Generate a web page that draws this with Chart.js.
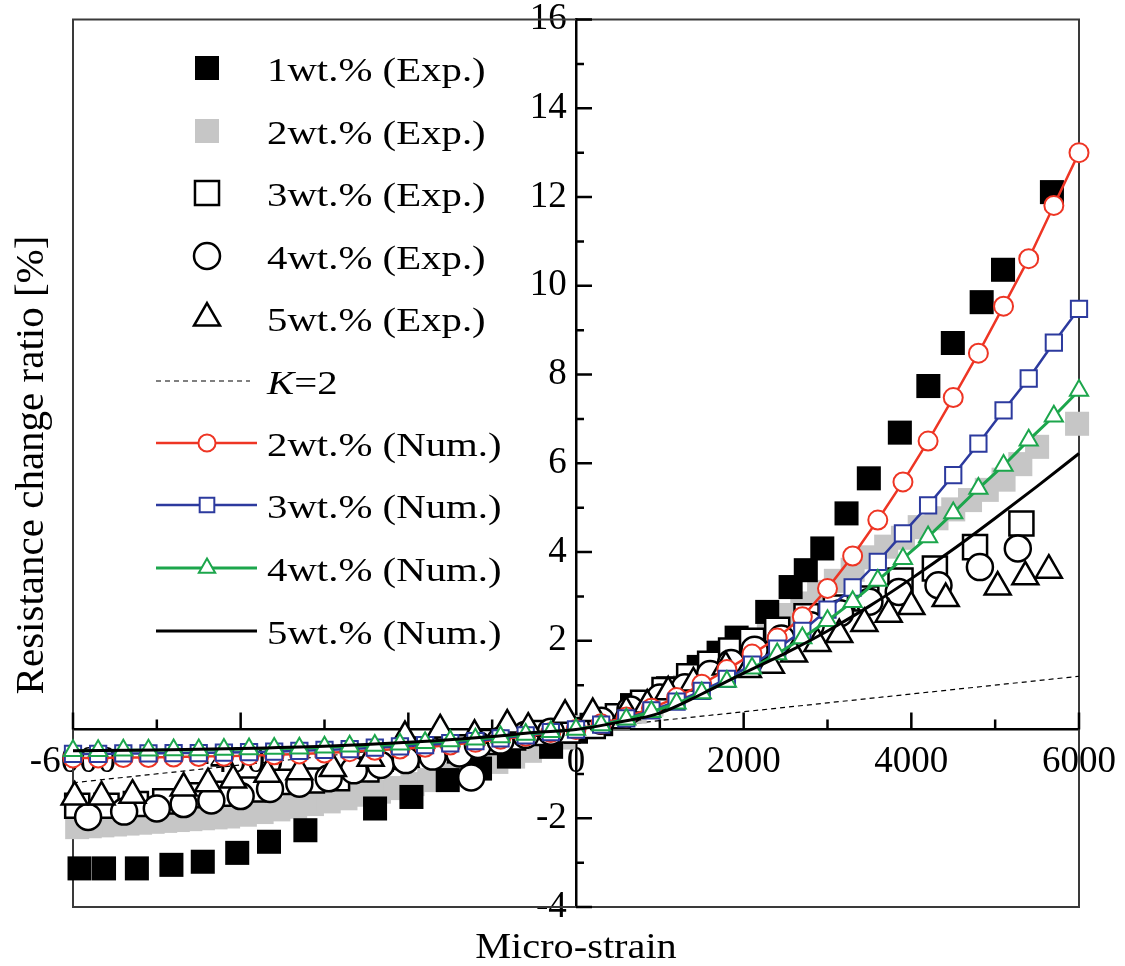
<!DOCTYPE html>
<html>
<head>
<meta charset="utf-8">
<script src="https://cdn.jsdelivr.net/npm/chart.js@4.4.1/dist/chart.umd.min.js"></script>
<style>
  html, body { margin: 0; padding: 0; background: #fff; }
  canvas { display: block; }
</style>
</head>
<body>
<canvas id="c" width="1125" height="966"></canvas>
<script>
// Resistance change ratio vs micro-strain, exp. points + numerical curves
const SERIF = "'Liberation Serif', 'Times New Roman', serif";
const RED = '#ee3524', BLUE = '#2c3a9e', GREEN = '#1ca64c', GRAY = '#c6c6c6';

const xMin = -6000, xMax = 6000, yMin = -4, yMax = 16;

// numerical curves (markers every 300 micro-strain)
const numX = [-6000, -5700, -5400, -5100, -4800, -4500, -4200, -3900, -3600, -3300, -3000, -2700, -2400, -2100, -1800, -1500, -1200, -900, -600, -300,
  0, 300, 600, 900, 1200, 1500, 1800, 2100, 2400, 2700, 3000, 3300, 3600, 3900, 4200, 4500, 4800, 5100, 5400, 5700, 6000];
const num2Y = [-0.64, -0.64, -0.63, -0.63, -0.62, -0.61, -0.60, -0.59, -0.57, -0.55, -0.53, -0.50, -0.47, -0.44, -0.40, -0.35, -0.29, -0.22, -0.15, -0.07,
  0, 0.13, 0.28, 0.48, 0.72, 1.02, 1.35, 1.70, 2.06, 2.54, 3.18, 3.91, 4.72, 5.58, 6.50, 7.48, 8.48, 9.54, 10.61, 11.81, 13.00];
const num3Y = [-0.55, -0.55, -0.54, -0.54, -0.53, -0.53, -0.52, -0.51, -0.50, -0.48, -0.46, -0.44, -0.41, -0.38, -0.35, -0.31, -0.26, -0.20, -0.13, -0.06,
  0, 0.11, 0.25, 0.43, 0.63, 0.87, 1.14, 1.46, 1.82, 2.22, 2.70, 3.20, 3.78, 4.42, 5.05, 5.73, 6.44, 7.19, 7.91, 8.72, 9.48];
const num4Y = [-0.48, -0.48, -0.47, -0.47, -0.46, -0.46, -0.45, -0.44, -0.43, -0.42, -0.40, -0.38, -0.36, -0.33, -0.30, -0.26, -0.22, -0.17, -0.11, -0.05,
  0, 0.10, 0.23, 0.40, 0.59, 0.82, 1.08, 1.38, 1.70, 2.06, 2.45, 2.88, 3.36, 3.85, 4.34, 4.88, 5.43, 5.95, 6.52, 7.06, 7.64];
const num5X = [-6000, -5000, -4000, -3000, -2000, -1000, -500, 0, 500, 1000, 1500, 2000, 2500, 3000, 3500, 4000, 4500, 5000, 5500, 6000];
const num5Y = [-0.48, -0.46, -0.43, -0.38, -0.29, -0.16, -0.07, 0, 0.16, 0.37, 0.80, 1.27, 1.72, 2.22, 2.78, 3.40, 4.06, 4.76, 5.48, 6.22];

// gauge factor K=2
const kX = [-6000, 6000];
const kY = [-1.2, 1.2];

// experiments
const exp1X = [-5922, -5630, -5238, -4826, -4452, -4041, -3662, -3228, -2397, -1963, -1530, -1145, -800, -297, 0,
  300, 668, 1098, 1464, 1701, 1916, 2281, 2560, 2741, 2938, 3227, 3493, 3863, 4203, 4495, 4839, 5094, 5677];
const exp1Y = [-3.13, -3.13, -3.13, -3.05, -2.98, -2.78, -2.53, -2.27, -1.78, -1.52, -1.14, -0.88, -0.61, -0.39, -0.05,
  0.12, 0.55, 0.93, 1.41, 1.73, 2.07, 2.65, 3.21, 3.59, 4.08, 4.87, 5.66, 6.69, 7.74, 8.71, 9.63, 10.36, 12.11];

const exp2X = [-5950, -5800, -5650, -5500, -5350, -5200, -5050, -4900, -4750, -4600, -4450, -4300, -4150,
  -3950, -3750, -3550, -3350, -3150, -2950, -2750, -2550, -2350, -2150, -1950, -1750, -1550, -1350, -1150, -950, -750, -550, -350, -150,
  100, 300, 500, 700, 900, 1100, 1300, 1500, 1700, 1900, 2100, 2300, 2500, 2700, 2900, 3100, 3300, 3500, 3700, 3900, 4100, 4300, 4500, 4700, 4900, 5100, 5300, 5500, 5977];
const exp2Y = [-2.20, -2.18, -2.16, -2.14, -2.12, -2.10, -2.08, -2.06, -2.04, -2.02, -2.00, -1.98, -1.96,
  -1.92, -1.86, -1.80, -1.74, -1.68, -1.62, -1.55, -1.47, -1.40, -1.32, -1.23, -1.14, -1.04, -0.94, -0.84, -0.73, -0.61, -0.48, -0.34, -0.18,
  0.05, 0.14, 0.26, 0.40, 0.56, 0.75, 0.96, 1.18, 1.42, 1.75, 2.02, 2.30, 2.58, 2.84, 3.10, 3.35, 3.60, 3.88, 4.12, 4.32, 4.56, 4.76, 4.96, 5.17, 5.40, 5.63, 5.98, 6.37, 6.89];

const exp3X = [-5950, -5600, -5250, -4900, -4550, -4200, -3850, -3500, -3150, -2850, -2500, -2150, -1800, -1450, -1100, -750, -400, -100,
  200, 500, 800, 1056, 1350, 1600, 1850, 2100, 2400, 2750, 3100, 3463, 3871, 4281, 4760, 5313];
const exp3Y = [-1.72, -1.72, -1.68, -1.62, -1.48, -1.45, -1.35, -1.18, -1.15, -1.10, -0.90, -0.62, -0.45, -0.40, -0.28, -0.18, -0.08, -0.02,
  0.08, 0.30, 0.60, 0.89, 1.20, 1.48, 1.78, 2.00, 2.25, 2.55, 2.75, 2.95, 3.36, 3.63, 4.11, 4.64];

const exp4X = [-5820, -5390, -5000, -4680, -4350, -4000, -3650, -3300, -2950, -2650, -2330, -2030, -1710, -1390, -1250, -1170, -900, -600, -300,
  300, 650, 1000, 1300, 1600, 1850, 2130, 2450, 2800, 3150, 3500, 3850, 4324, 4818, 5270];
const exp4Y = [-1.97, -1.85, -1.78, -1.68, -1.60, -1.50, -1.34, -1.22, -1.10, -0.92, -0.80, -0.69, -0.61, -0.54, -1.08, -0.35, -0.25, -0.12, -0.05,
  0.20, 0.45, 0.72, 0.95, 1.25, 1.50, 1.80, 2.05, 2.35, 2.62, 2.88, 3.10, 3.25, 3.66, 4.08];

const exp5X = [-5980, -5660, -5290, -4680, -4390, -4090, -3680, -3300, -2900, -2450, -2040, -1620, -1210, -820, -570, -130,
  200, 600, 850, 1100, 1400, 1787, 2050, 2324, 2600, 2880, 3140, 3440, 3730, 4000, 4410, 5030, 5360, 5640];
const exp5Y = [-1.52, -1.52, -1.48, -1.32, -1.22, -1.14, -1.01, -0.95, -0.88, -0.65, -0.16, -0.01, -0.13, 0.10, 0.03, 0.32,
  0.36, 0.40, 0.55, 0.85, 1.05, 1.41, 1.35, 1.45, 1.70, 1.94, 2.14, 2.39, 2.60, 2.77, 2.95, 3.21, 3.44, 3.59];

const legendOrder = ['1wt.% (Exp.)', '2wt.% (Exp.)', '3wt.% (Exp.)', '4wt.% (Exp.)', '5wt.% (Exp.)',
  'K=2', '2wt.% (Num.)', '3wt.% (Num.)', '4wt.% (Num.)', '5wt.% (Num.)'];
const legendRows = [68, 131, 193, 256, 318, 381, 443, 505, 568, 631];

const pts = (xs, ys) => xs.map((v, i) => ({ x: v, y: ys[i] }));

// lower order = drawn on top
const datasets = [
  { label: '5wt.% (Num.)', data: pts(num5X, num5Y), showLine: true, borderColor: '#000', backgroundColor: '#000', borderWidth: 3,
    pointRadius: 0, cubicInterpolationMode: 'monotone', order: 0 },
  { label: '4wt.% (Num.)', data: pts(numX, num4Y), showLine: true, borderColor: GREEN, backgroundColor: '#fff', borderWidth: 3,
    pointStyle: 'triangle', pointRadius: 10.5, pointBorderWidth: 2, order: 1 },
  { label: '3wt.% (Num.)', data: pts(numX, num3Y), showLine: true, borderColor: BLUE, backgroundColor: '#fff', borderWidth: 2.5,
    pointStyle: 'rect', pointRadius: 11.5, pointBorderWidth: 2, order: 2 },
  { label: '2wt.% (Num.)', data: pts(numX, num2Y), showLine: true, borderColor: RED, backgroundColor: '#fff', borderWidth: 2.5,
    pointStyle: 'circle', pointRadius: 9.5, pointBorderWidth: 2, order: 3 },
  { label: '5wt.% (Exp.)', data: pts(exp5X, exp5Y), borderColor: '#000', backgroundColor: '#fff',
    pointStyle: 'triangle', pointRadius: 15, pointBorderWidth: 2.5, order: 4 },
  { label: '4wt.% (Exp.)', data: pts(exp4X, exp4Y), borderColor: '#000', backgroundColor: '#fff',
    pointStyle: 'circle', pointRadius: 13, pointBorderWidth: 2.5, order: 5 },
  { label: '3wt.% (Exp.)', data: pts(exp3X, exp3Y), borderColor: '#000', backgroundColor: '#fff',
    pointStyle: 'rect', pointRadius: 17, pointBorderWidth: 2.5, order: 6 },
  { label: '1wt.% (Exp.)', data: pts(exp1X, exp1Y), borderColor: '#000', backgroundColor: '#000',
    pointStyle: 'rect', pointRadius: 17, pointBorderWidth: 0, order: 7 },
  { label: '2wt.% (Exp.)', data: pts(exp2X, exp2Y), borderColor: GRAY, backgroundColor: GRAY,
    pointStyle: 'rect', pointRadius: 17, pointBorderWidth: 0, order: 8 },
  { label: 'K=2', data: pts(kX, kY), showLine: true, borderColor: '#000', backgroundColor: '#000', borderWidth: 1.2,
    borderDash: [5, 4], pointRadius: 0, order: 9 },
];
datasets.forEach((d) => { d.clip = false; d.pointHoverRadius = d.pointRadius; });

const frameTicks = {
  id: 'frameTicks',
  beforeDatasetsDraw(chart) {
    const { ctx, chartArea: a, scales: { x, y } } = chart;
    const x0 = x.getPixelForValue(0), y0 = y.getPixelForValue(0);
    ctx.save();
    ctx.strokeStyle = '#3a3a3a';
    ctx.lineWidth = 2;
    ctx.strokeRect(a.left, a.top, a.right - a.left, a.bottom - a.top);
    ctx.strokeStyle = '#000';
    ctx.lineWidth = 2.5;
    ctx.beginPath();
    for (let v = xMin; v <= xMax; v += 1000) {
      const px = x.getPixelForValue(v);
      ctx.moveTo(px, y0);
      ctx.lineTo(px, y0 - (v % 2000 === 0 ? 17 : 10));
    }
    for (let v = yMin; v <= yMax; v += 1) {
      const py = y.getPixelForValue(v);
      ctx.moveTo(x0, py);
      ctx.lineTo(x0 + (v % 2 === 0 ? 16 : 8), py);
    }
    ctx.stroke();
    ctx.restore();
  },
};

const legendBox = {
  id: 'legendBox',
  afterDraw(chart) {
    const ctx = chart.ctx;
    legendOrder.forEach((label, i) => {
      const ds = chart.data.datasets.find((d) => d.label === label);
      const cy = legendRows[i];
      ctx.save();
      if (ds.showLine) {
        ctx.strokeStyle = ds.borderColor;
        ctx.lineWidth = ds.borderWidth;
        ctx.setLineDash(ds.borderDash || []);
        ctx.beginPath();
        ctx.moveTo(156, cy);
        ctx.lineTo(ds.borderDash ? 250 : 257, cy);
        ctx.stroke();
        ctx.setLineDash([]);
      }
      if (ds.pointRadius > 0) {
        ctx.fillStyle = ds.backgroundColor;
        ctx.strokeStyle = ds.borderColor;
        ctx.lineWidth = ds.pointBorderWidth;
        const r = ds.showLine ? ds.pointRadius * 0.9 : ds.pointRadius;
        Chart.helpers.drawPoint(ctx, { pointStyle: ds.pointStyle, radius: r, rotation: 0, borderWidth: ds.pointBorderWidth }, 207, cy);
      }
      ctx.translate(267, cy + 13);
      ctx.scale(1.2, 1);
      ctx.fillStyle = '#000';
      ctx.textBaseline = 'alphabetic';
      ctx.textAlign = 'left';
      if (label === 'K=2') {
        ctx.font = `italic 34px ${SERIF}`;
        ctx.fillText('K', 0, 0);
        const w = ctx.measureText('K').width;
        ctx.font = `34px ${SERIF}`;
        ctx.fillText('=2', w, 0);
      } else {
        ctx.font = `34px ${SERIF}`;
        ctx.fillText(label, 0, 0);
      }
      ctx.restore();
    });

    // axis titles
    ctx.save();
    ctx.fillStyle = '#000';
    ctx.textAlign = 'center';
    ctx.textBaseline = 'alphabetic';
    ctx.translate(576, 958);
    ctx.scale(1.12, 1);
    ctx.font = `36px ${SERIF}`;
    ctx.fillText('Micro-strain', 0, 0);
    ctx.restore();

    ctx.save();
    ctx.fillStyle = '#000';
    ctx.textAlign = 'center';
    ctx.textBaseline = 'alphabetic';
    ctx.translate(43, 465);
    ctx.rotate(-Math.PI / 2);
    ctx.font = `41px ${SERIF}`;
    ctx.fillText('Resistance change ratio [%]', 0, 0);
    ctx.restore();
  },
};

// axes cross at zero: keep the tick-label overhang from shrinking the plot box
const noPad = (s) => { s.paddingTop = 0; s.paddingBottom = 0; s.paddingLeft = 0; s.paddingRight = 0; };

new Chart(document.getElementById('c'), {
  type: 'scatter',
  data: { datasets },
  options: {
    responsive: false,
    animation: false,
    devicePixelRatio: 1,
    layout: { padding: { left: 73, right: 46, top: 19, bottom: 59 } },
    plugins: { legend: { display: false }, tooltip: { enabled: false } },
    scales: {
      x: {
        type: 'linear', min: xMin, max: xMax, position: { y: 0 },
        afterFit: noPad,
        grid: { display: true, drawOnChartArea: false, drawTicks: false },
        border: { display: true, color: '#000', width: 2.5 },
        ticks: { stepSize: 2000, autoSkip: false, maxRotation: 0, padding: 11, color: '#000',
          font: { family: SERIF, size: 37 }, callback: (v) => String(v) },
      },
      y: {
        type: 'linear', min: yMin, max: yMax, position: { x: 0 },
        afterFit: noPad,
        grid: { display: true, drawOnChartArea: false, drawTicks: false },
        border: { display: true, color: '#000', width: 2.5 },
        // labels sit right on the axis line when it is value-positioned, the trailing nbsp gives the gap
        ticks: { stepSize: 2, autoSkip: false, color: '#000',
          font: { family: SERIF, size: 37 }, callback: (v) => (v === 0 ? '' : String(v) + '\u00a0') },
      },
    },
  },
  plugins: [frameTicks, legendBox],
});
</script>
</body>
</html>
